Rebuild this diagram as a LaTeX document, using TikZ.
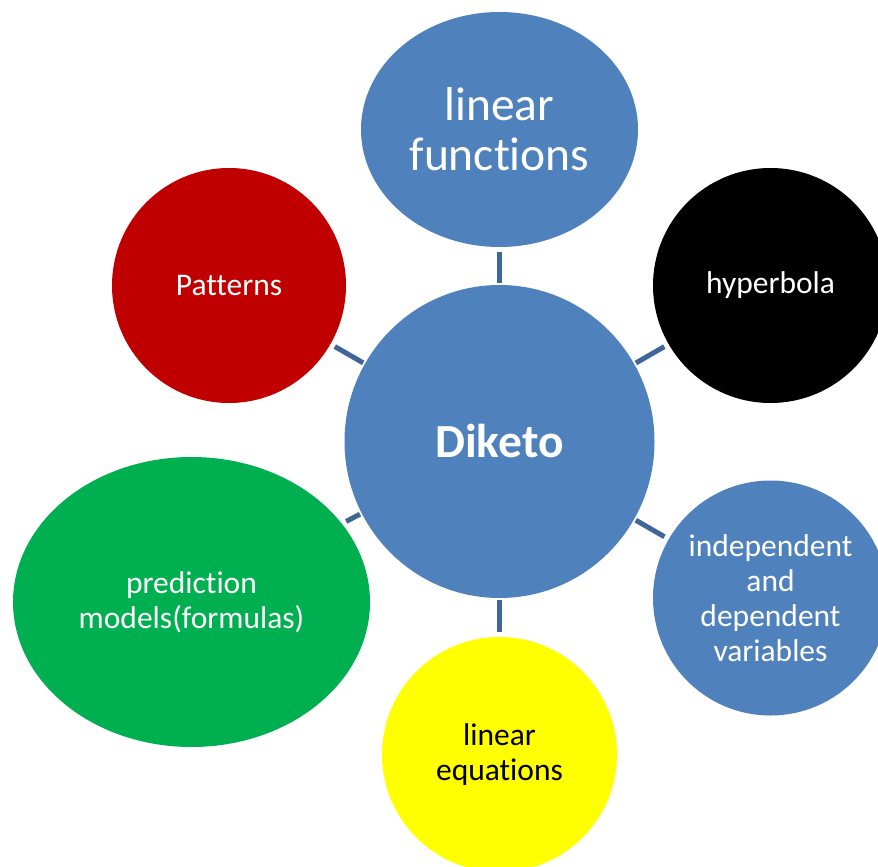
\documentclass[tikz,border=0pt]{standalone}
\usepackage{fontspec}
\setmainfont{Carlito}[Ligatures={NoCommon}]
\usetikzlibrary{shapes.geometric}
\definecolor{hubblue}{HTML}{4F81BD}
\definecolor{linkblue}{HTML}{3F6697}
\definecolor{patred}{HTML}{C00000}
\definecolor{predgreen}{HTML}{00B050}
\definecolor{eqyellow}{HTML}{FFFF00}
\tikzset{
  bubble/.style={ellipse, inner sep=0pt, outer sep=0pt, align=center,
    text=white, font=\fontsize{31.5}{35}\selectfont},
  link/.style={draw=linkblue, line width=5pt, shorten <=2pt, shorten >=5pt}
}
\begin{document}
\begin{tikzpicture}[x=1pt,y=-1pt]
  \useasboundingbox (0,0) rectangle (878,867);
  \clip (0,0) rectangle (878,867);
  % central topic
  \node[bubble, fill=hubblue, minimum width=310pt, minimum height=313pt,
        font=\fontsize{47.5}{52}\bfseries\selectfont] (hub) at (499.5,441.5) {Diketo};
  % surrounding topics
  \node[bubble, fill=hubblue, minimum width=277pt, minimum height=235pt,
        font=\fontsize{47.5}{50}\selectfont] (linf) at (499.5,129.5) {linear\\functions};
  \node[bubble, fill=black, minimum width=235pt, minimum height=235pt] (hyp) at (770.5,285.5) {hyperbola};
  \node[bubble, fill=hubblue, minimum width=235pt, minimum height=235pt] (vars) at (770.5,598) {independent\\and\\dependent\\variables};
  \node[bubble, fill=eqyellow, text=black, minimum width=235pt, minimum height=235pt] (leq) at (499.5,754.5) {linear\\equations};
  \node[bubble, fill=predgreen, minimum width=357pt, minimum height=290pt] (pred) at (191.5,602) {prediction\\models(formulas)};
  \node[bubble, fill=patred, minimum width=234pt, minimum height=235pt] (pat) at (229,285.5) {Patterns};
  % connectors from the hub
  \draw[link] (hub) -- (linf);
  \draw[link] (hub) -- (hyp);
  \draw[link] (hub) -- (vars);
  \draw[link] (hub) -- (leq);
  \draw[link] (hub) -- (pred);
  \draw[link] (hub) -- (pat);
\end{tikzpicture}
\end{document}
